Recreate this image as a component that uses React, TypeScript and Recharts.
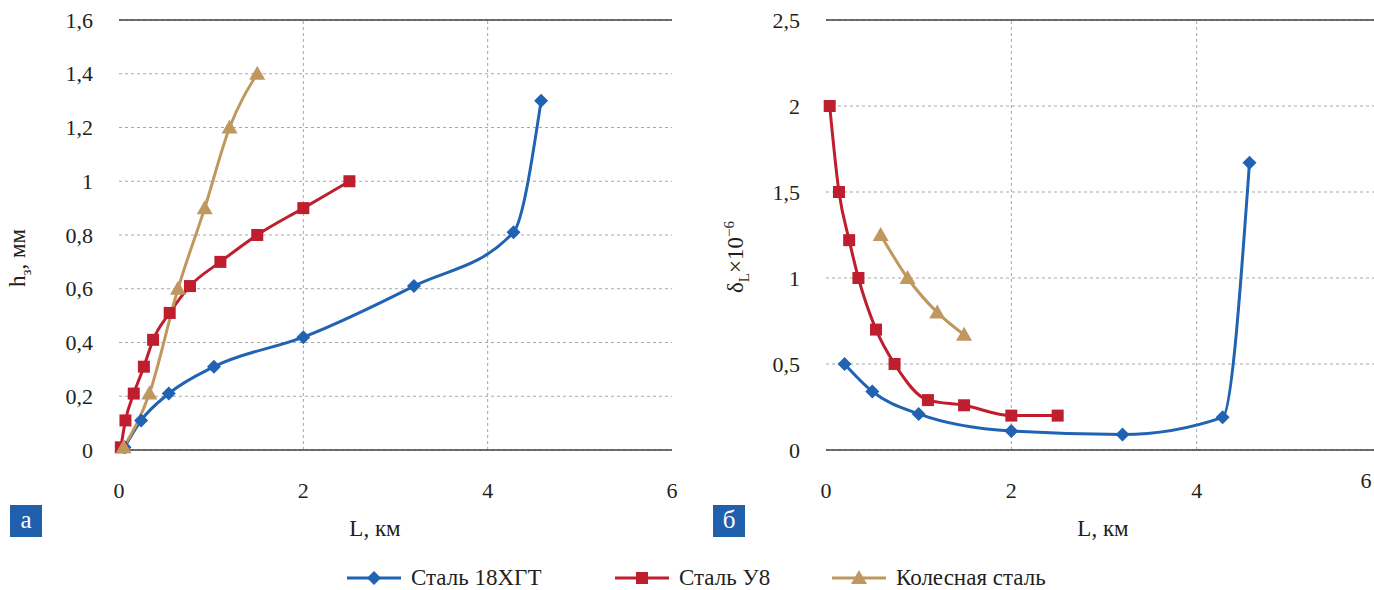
import { LineChart, Line, XAxis, YAxis, CartesianGrid, ReferenceLine } from "recharts";

// L, км (shared x axis values per series)
const xTicks = [0, 2, 4, 6];
const hTicks = [0, 0.2, 0.4, 0.6, 0.8, 1, 1.2, 1.4, 1.6];
const dTicks = [0, 0.5, 1, 1.5, 2, 2.5];

// chart а: wear h3, mm
const lA18 = [0.06, 0.24, 0.54, 1.03, 2.0, 3.2, 4.28, 4.58];
const hA18 = [0.01, 0.11, 0.21, 0.31, 0.42, 0.61, 0.81, 1.3];
const lAU8 = [0.02, 0.07, 0.16, 0.27, 0.37, 0.55, 0.77, 1.1, 1.5, 2.0, 2.5];
const hAU8 = [0.01, 0.11, 0.21, 0.31, 0.41, 0.51, 0.61, 0.7, 0.8, 0.9, 1.0];
const lAWh = [0.05, 0.33, 0.64, 0.93, 1.2, 1.5];
const hAWh = [0.01, 0.21, 0.6, 0.9, 1.2, 1.4];

// chart б: δL ×10^-6
const lB18 = [0.2, 0.5, 1.0, 2.0, 3.2, 4.28, 4.57];
const dB18 = [0.5, 0.34, 0.21, 0.11, 0.09, 0.19, 1.67];
const lBU8 = [0.04, 0.14, 0.25, 0.35, 0.54, 0.74, 1.1, 1.49, 2.0, 2.5];
const dBU8 = [2.0, 1.5, 1.22, 1.0, 0.7, 0.5, 0.29, 0.26, 0.2, 0.2];
const lBWh = [0.59, 0.88, 1.2, 1.49];
const dBWh = [1.25, 1.0, 0.8, 0.67];

const seriesNames = ["Сталь 18ХГТ", "Сталь У8", "Колесная сталь"];
const colors = ["#1f63b2", "#be1e2d", "#c0985f"];

const FONT = '"Liberation Serif", "Times New Roman", "DejaVu Serif", serif';
const INK = "#231f20";

const zip = (xs: number[], ys: number[]) => xs.map((x, i) => ({ x, y: ys[i] }));
const fmt = (v: number) => String(v).replace(".", ",");

const Diamond = (props: any) => {
  const { cx, cy, index } = props;
  return (
    <polygon
      key={"d" + index}
      points={`${cx},${cy - 7} ${cx + 7},${cy} ${cx},${cy + 7} ${cx - 7},${cy}`}
      fill={colors[0]}
    />
  );
};
const Square = (props: any) => {
  const { cx, cy, index } = props;
  return <rect key={"s" + index} x={cx - 6} y={cy - 6} width={12} height={12} fill={colors[1]} />;
};
const Triangle = (props: any) => {
  const { cx, cy, index } = props;
  return (
    <polygon
      key={"t" + index}
      points={`${cx},${cy - 8} ${cx + 8},${cy + 6} ${cx - 8},${cy + 6}`}
      fill={colors[2]}
    />
  );
};
const dots = [Diamond, Square, Triangle];

const XTick = (props: any) => {
  const { x, y, payload, shiftLast } = props;
  const last = shiftLast && payload.value === 6;
  return (
    <text
      x={last ? x - 16 : x}
      y={last ? y - 10 : y}
      dy="0.71em"
      textAnchor="middle"
      fill={INK}
      fontFamily={FONT}
      fontSize={22}
    >
      {fmt(payload.value)}
    </text>
  );
};

const YTick = (props: any) => {
  const { x, y, payload } = props;
  return (
    <text x={x} y={y} dy="0.35em" textAnchor="end" fill={INK} fontFamily={FONT} fontSize={22}>
      {fmt(payload.value)}
    </text>
  );
};

interface PanelProps {
  series: { x: number; y: number }[][];
  yTicks: number[];
  yWidth: number;
  right: number;
  shiftLast?: boolean;
}

const Panel = ({ series, yTicks, yWidth, right, shiftLast }: PanelProps) => {
  const yMax = yTicks[yTicks.length - 1];
  return (
    <LineChart
      width={700}
      height={560}
      margin={{ top: 20, right, left: 0, bottom: 50 }}
      style={{ fontFamily: FONT }}
    >
      <CartesianGrid vertical={false} stroke="#a6a6a6" strokeDasharray="3 3" />
      <ReferenceLine x={2} stroke="#a6a6a6" strokeDasharray="3 3" />
      <ReferenceLine x={4} stroke="#a6a6a6" strokeDasharray="3 3" />
      <ReferenceLine y={yMax} stroke="#404040" strokeWidth={1.3} />
      <XAxis
        type="number"
        dataKey="x"
        domain={[0, 6]}
        ticks={xTicks}
        height={60}
        tickLine={false}
        tickSize={0}
        tickMargin={32}
        axisLine={{ stroke: "#404040", strokeWidth: 1.5 }}
        tick={<XTick shiftLast={shiftLast} />}
      />
      <YAxis
        type="number"
        domain={[0, yMax]}
        ticks={yTicks}
        width={yWidth}
        axisLine={false}
        tickLine={false}
        tickSize={0}
        tickMargin={26}
        tick={<YTick />}
      />
      {series.map((d, i) => (
        <Line
          key={seriesNames[i]}
          data={d}
          dataKey="y"
          name={seriesNames[i]}
          type="monotone"
          stroke={colors[i]}
          strokeWidth={3}
          dot={dots[i]}
          activeDot={false}
          isAnimationActive={false}
        />
      ))}
    </LineChart>
  );
};

const LegendIcon = ({ i }: { i: number }) => {
  const Dot = dots[i];
  return (
    <svg width={54} height={20} style={{ display: "block" }}>
      <line x1={0} y1={10} x2={54} y2={10} stroke={colors[i]} strokeWidth={3} />
      <Dot cx={27} cy={10} index={0} />
    </svg>
  );
};

const legendLeft = [347, 615, 832];

const boxStyle = (left: number): React.CSSProperties => ({
  position: "absolute",
  left,
  top: 505,
  width: 32,
  height: 32,
  background: "#1f5fae",
  color: "#fff",
  fontSize: 25,
  lineHeight: "30px",
  textAlign: "center",
});

const labelStyle = (left: number, top: number, rotate: boolean): React.CSSProperties => ({
  position: "absolute",
  left,
  top,
  transform: `translate(-50%, -50%)${rotate ? " rotate(-90deg)" : ""}`,
  fontSize: 23,
  color: INK,
  whiteSpace: "nowrap",
  lineHeight: 1,
});

export default function App() {
  const seriesA = [zip(lA18, hA18), zip(lAU8, hAU8), zip(lAWh, hAWh)];
  const seriesB = [zip(lB18, dB18), zip(lBU8, dBU8), zip(lBWh, dBWh)];
  return (
    <div
      style={{
        position: "absolute",
        left: 0,
        top: 0,
        width: 1374,
        height: 590,
        overflow: "hidden",
        background: "#fff",
        fontFamily: FONT,
      }}
    >
      <div style={{ position: "absolute", left: 0, top: 0 }}>
        <Panel series={seriesA} yTicks={hTicks} yWidth={119} right={28} />
      </div>
      <div style={{ position: "absolute", left: 700, top: 0 }}>
        <Panel series={seriesB} yTicks={dTicks} yWidth={126} right={18} shiftLast />
      </div>

      <div style={labelStyle(20, 258, true)}>
        h<sub style={{ fontSize: 15 }}>з</sub>, мм
      </div>
      <div style={labelStyle(737, 257, true)}>
        δ<sub style={{ fontSize: 15 }}>L</sub>×10<sup style={{ fontSize: 15 }}>−6</sup>
      </div>
      <div style={labelStyle(375, 528, false)}>L, км</div>
      <div style={labelStyle(1103, 528, false)}>L, км</div>

      <div style={boxStyle(10)}>а</div>
      <div style={boxStyle(713)}>б</div>

      {seriesNames.map((name, i) => (
        <div
          key={name}
          style={{
            position: "absolute",
            left: legendLeft[i],
            top: 565,
            display: "flex",
            alignItems: "center",
            gap: 10,
            fontSize: 23,
            color: INK,
            whiteSpace: "nowrap",
          }}
        >
          <LegendIcon i={i} />
          <span>{name}</span>
        </div>
      ))}
    </div>
  );
}
